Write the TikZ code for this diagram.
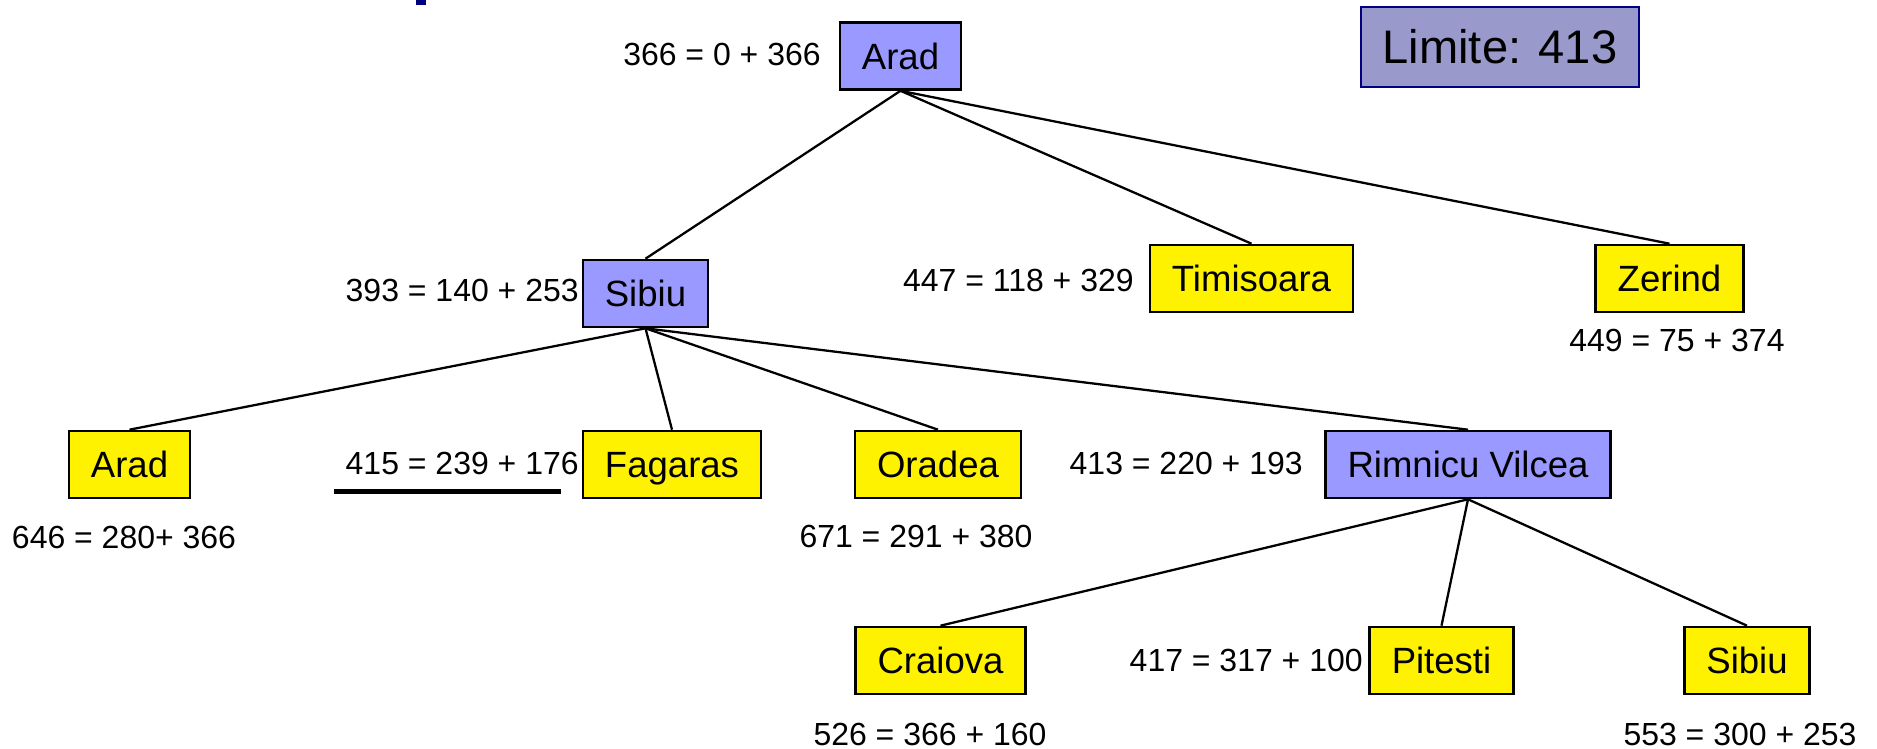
\documentclass[tikz,border=0pt]{standalone}
\usepackage{fontspec}
\setmainfont{Liberation Sans}

\definecolor{expandblue}{HTML}{9999FF}
\definecolor{limitfill}{HTML}{9999CC}
\definecolor{limitnavy}{HTML}{000080}

\newcommand{\cityfont}{\fontsize{20.8}{25}\selectfont}
\newcommand{\costfont}{\fontsize{18.2}{22}\selectfont}

\tikzset{
    city/.style={draw=black, line width=1.5pt, minimum height=1.34cm, inner xsep=0.44cm,
        text height=15pt, text depth=0pt, font=\cityfont},
    leafcity/.style={city, fill=yellow},
    innercity/.style={city, fill=expandblue},
    cost/.style={inner sep=0pt, text height=13.1pt, text depth=0pt, font=\costfont},
    treeedge/.style={line width=1.3pt},
}

\begin{document}
\begin{tikzpicture}[x=0.02cm, y=-0.02cm]
    \useasboundingbox (0,0) rectangle (1877,749);

    % bit of the title above the frame
    \fill[limitnavy] (416,0) rectangle (426,5);

    % Limit box
    \node[fill=limitfill, draw=limitnavy, line width=1.1pt, minimum width=5.56cm, minimum height=1.6cm,
        text height=19.3pt, text depth=0pt, font=\fontsize{26.8}{32}\selectfont]
        (limit) at (1500,47) {Limite: 413};

    % Tree nodes
    \node[innercity] (arad0)   at (900.5,56)    {Arad};
    \node[innercity] (sibiu1)  at (645.5,293.5) {Sibiu};
    \node[leafcity]  (timi)    at (1251.5,278.5) {Timisoara};
    \node[leafcity]  (zerind)  at (1669.5,278.5) {Zerind};
    \node[leafcity]  (arad2)   at (129.5,464.5) {Arad};
    \node[leafcity]  (fagaras) at (672,464.5)   {Fagaras};
    \node[leafcity]  (oradea)  at (938,464.5)   {Oradea};
    \node[innercity] (rimnicu) at (1468,464.5)  {Rimnicu Vilcea};
    \node[leafcity]  (craiova) at (940.5,660.5) {Craiova};
    \node[leafcity]  (pitesti) at (1441.5,660.5) {Pitesti};
    \node[leafcity]  (sibiu3)  at (1747,660.5)  {Sibiu};

    % Edges: parent bottom to child top
    \foreach \a/\b in {arad0/sibiu1, arad0/timi, arad0/zerind,
                       sibiu1/arad2, sibiu1/fagaras, sibiu1/oradea, sibiu1/rimnicu,
                       rimnicu/craiova, rimnicu/pitesti, rimnicu/sibiu3} {
        \draw[treeedge] (\a.south) -- (\b.north);
    }

    % f = g + h, left of the node
    \node[cost, anchor=east] (f-arad0)   at (821,54)   {366 = 0 + 366};
    \node[cost, anchor=east] (f-sibiu1)  at (579,290)  {393 = 140 + 253};
    \node[cost, anchor=east] (f-timi)    at (1134,280) {447 = 118 + 329};
    \node[cost, anchor=east] (f-fagaras) at (579,463)  {415 = 239 + 176};
    \node[cost, anchor=east] (f-rimnicu) at (1303,463) {413 = 220 + 193};
    \node[cost, anchor=east] (f-pitesti) at (1363,660) {417 = 317 + 100};

    % f = g + h, below the node
    \node[cost] (f-zerind)  at (1677,340) {449 = 75 + 374};
    \node[cost] (f-arad2)   at (124,537)  {646 = 280+ 366};
    \node[cost] (f-oradea)  at (916,536)  {671 = 291 + 380};
    \node[cost] (f-craiova) at (930,734)  {526 = 366 + 160};
    \node[cost] (f-sibiu3)  at (1740,734) {553 = 300 + 253};

    % next limit
    \draw[line width=0.1cm] (334,492) -- (561,492);
\end{tikzpicture}
\end{document}
